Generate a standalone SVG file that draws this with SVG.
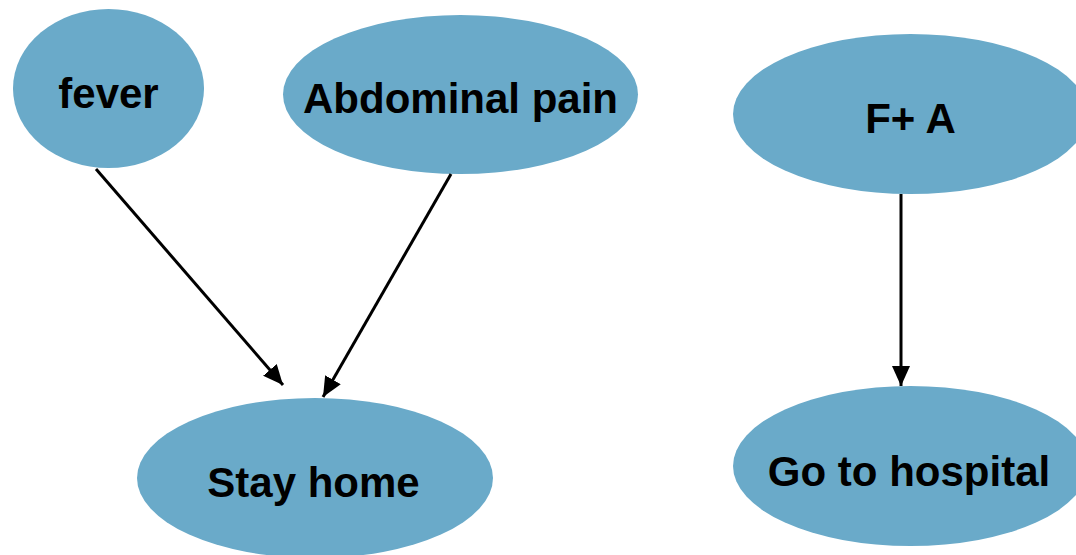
<svg xmlns="http://www.w3.org/2000/svg" width="1076" height="555" viewBox="0 0 1076 555">
  <style>
    .node ellipse { fill: #6aaac9; }
    .node text { font-family: "Liberation Sans", Arial, sans-serif; font-weight: bold; font-size: 42px; fill: #000; text-anchor: middle; }
    .edge { stroke: #000; stroke-width: 3; fill: none; marker-end: url(#arrow); }
  </style>
  <defs>
    <marker id="arrow" markerUnits="userSpaceOnUse" markerWidth="22" markerHeight="18" refX="20" refY="9" orient="auto">
      <path d="M0,0 L20,9 L0,18 Z" fill="#000"/>
    </marker>
  </defs>
  <rect width="1076" height="555" fill="#fff"/>

  <g id="fever" class="node">
    <ellipse cx="108.5" cy="88.5" rx="95.5" ry="79.5"/>
    <text x="108.5" y="108">fever</text>
  </g>
  <g id="abdominal-pain" class="node">
    <ellipse cx="460.5" cy="94.5" rx="177.5" ry="79.5"/>
    <text x="460.5" y="113">Abdominal pain</text>
  </g>
  <g id="f-plus-a" class="node">
    <ellipse cx="910.5" cy="114" rx="177.5" ry="80"/>
    <text x="910.5" y="133">F+ A</text>
  </g>
  <g id="stay-home" class="node">
    <ellipse cx="315" cy="478" rx="178" ry="80"/>
    <text x="313.5" y="497">Stay home</text>
  </g>
  <g id="go-to-hospital" class="node">
    <ellipse cx="910.5" cy="466" rx="177.5" ry="80"/>
    <text x="909" y="486">Go to hospital</text>
  </g>

  <g id="connectors">
    <line class="edge" x1="96" y1="169" x2="283" y2="385"/>
    <line class="edge" x1="451" y1="174" x2="323" y2="397"/>
    <line class="edge" x1="901" y1="194" x2="901" y2="386"/>
  </g>
</svg>
